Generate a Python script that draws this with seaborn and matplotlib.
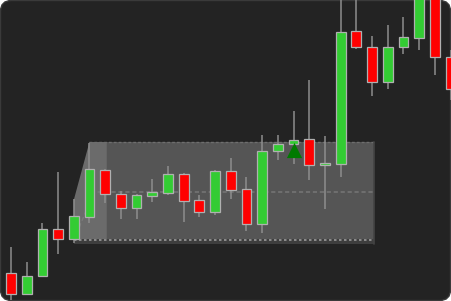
import matplotlib
matplotlib.use("Agg")
import matplotlib.pyplot as plt
import seaborn as sns
import numpy as np
import pandas as pd
from matplotlib.patches import FancyBboxPatch, Polygon, Rectangle

# ---- data (price units) ----
opens  = [28, 7, 25, 72, 62, 84, 131, 107, 93, 105, 108, 127, 101, 89, 130, 112, 77, 150, 157, 162, 136, 137, 270, 254, 219, 254, 263, 306, 244]
highs  = [54, 39, 78, 129, 102, 158, 132, 110, 107, 122, 135, 128, 106, 131, 143, 124, 166, 166, 190, 221, 165, 306, 306, 265, 276, 284, 321, 316, 251]
lows   = [1, 6, 24, 47, 58, 78, 98, 82, 82, 99, 106, 79, 84, 86, 102, 70, 68, 141, 137, 121, 92, 124, 252, 205, 212, 247, 251, 226, 201]
closes = [7, 25, 72, 62, 85, 132, 107, 93, 106, 109, 127, 100, 89, 130, 111, 77, 150, 157, 161, 136, 138, 269, 254, 219, 254, 264, 306, 244, 212]

# range box (consolidation zone)
box_start, box_end = 5, 23.1
box_high, box_low, box_mid = 159, 58, 109

# buy signal marker
signal_idx = [18]
signal_price = [151]

df = pd.DataFrame({"open": opens, "high": highs, "low": lows, "close": closes})
df["idx"] = np.arange(len(df))
df["up"] = df["close"] >= df["open"]

sns.set_theme(style="dark")
plt.rcParams["font.family"] = ["DejaVu Sans"]

BG = "#232323"
fig = plt.figure(figsize=(4.51, 3.01), dpi=100)
fig.patch.set_facecolor("white")

# rounded dark background
bg = fig.add_axes([0, 0, 1, 1])
bg.set_xlim(0, 451)
bg.set_ylim(0, 301)
bg.axis("off")
bg.add_patch(FancyBboxPatch((0.5, 0.5), 450, 300,
                            boxstyle="round,pad=0,rounding_size=11",
                            facecolor=BG, edgecolor="#3a3a3a", linewidth=1))

ax = fig.add_axes([0, 0, 1, 1])
ax.set_facecolor("none")
ax.set_xlim(-0.70, 28.03)
ax.set_ylim(0, 301)
ax.axis("off")

# ---- 3D-ish range box ----
ax.add_patch(Rectangle((box_start, box_low), box_end - box_start, box_high - box_low,
                       facecolor="#555555", edgecolor="none", zorder=1))
side_w = 1.1
ax.add_patch(Polygon([(box_start - 1, box_mid - 8), (box_start, box_high),
                      (box_start + side_w, box_high), (box_start + side_w, box_low + 4),
                      (box_start - 1, box_low + 4)],
                     closed=True, facecolor="#6b6b6b", edgecolor="none", zorder=1.1))
# bottom band
ax.add_patch(Rectangle((box_start - 1, box_low - 1), box_end - box_start + 1, 5,
                       facecolor="#3e3e3e", edgecolor="none", zorder=1.2))
ax.plot([box_start - 1, box_end], [box_low + 3.5, box_low + 3.5], color="#9a9a9a",
        lw=1.2, ls=(0, (1.5, 1.5)), zorder=1.3)
# top edge
ax.plot([box_start, box_end], [box_high, box_high], color="#6e6e6e", lw=1.0,
        ls=(0, (2, 1.5)), zorder=1.3)
# right edge
ax.plot([box_end, box_end], [box_low - 1, box_high], color="#444444", lw=1.2, zorder=1.3)
# midline
ax.plot([box_start - 1, box_start + 0.3, box_end], [box_low + 3, box_mid, box_mid],
        color="#7a7a7a", lw=1.0, ls=(0, (3, 2)), zorder=1.3)

# ---- candles ----
GREEN, RED = "#33cc33", "#ff0000"
ax.vlines(df["idx"], df["low"], df["high"], color="#8e8e8e", lw=1.1, zorder=2)
body_bottom = np.minimum(df["open"], df["close"])
body_h = np.maximum(np.abs(df["close"] - df["open"]), 1.5)
colors = [GREEN if u else RED for u in df["up"]]
ax.bar(df["idx"], body_h, bottom=body_bottom, width=0.62, color=colors,
       edgecolor="#b0b0b0", linewidth=0.9, zorder=3)

# ---- signal marker ----
sns.scatterplot(x=signal_idx, y=signal_price, marker="^", s=120, color="#007a00",
                linewidth=0, ax=ax, zorder=4, legend=False)
ax.set_xlim(-0.70, 28.03)
ax.set_ylim(0, 301)
ax.axis("off")

fig.savefig("out.png", dpi=100, facecolor=fig.get_facecolor())
